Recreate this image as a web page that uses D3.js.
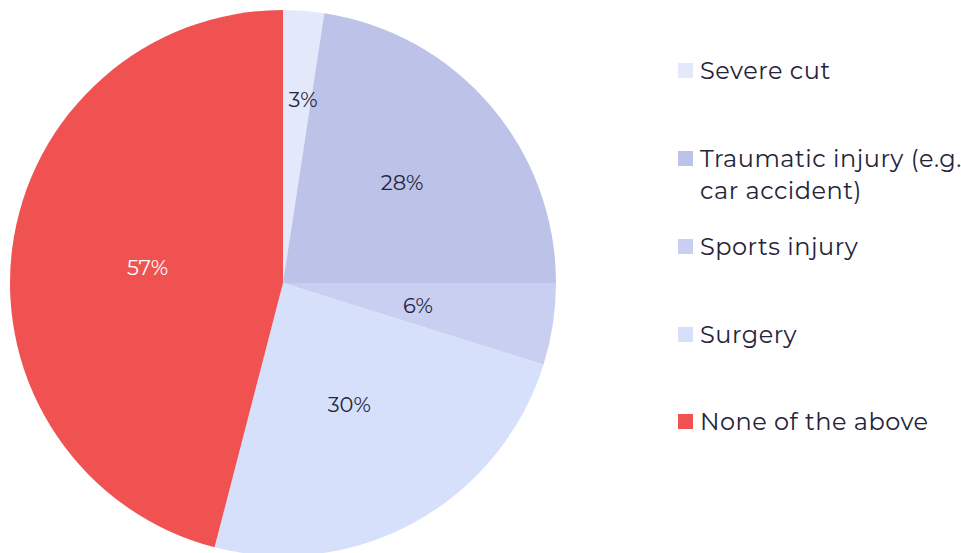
<!DOCTYPE html>
<html lang="en">
<head>
  <meta charset="UTF-8">
  <title>Injury pie</title>
  <script src="https://d3js.org/d3.v7.min.js"></script>
  <style>
    body { margin: 0; background: #fff; }
    svg text { font-family: Montserrat, "Noto Sans", sans-serif; }
  </style>
</head>
<body>
  <svg id="chart" width="961" height="553"></svg>
  <script>
    const categories = ["Severe cut", "Traumatic injury (e.g. car accident)", "Sports injury", "Surgery", "None of the above"];
    const legendLines = [["Severe cut"], ["Traumatic injury (e.g.", "car accident)"], ["Sports injury"], ["Surgery"], ["None of the above"]];
    const values = [3, 28, 6, 30, 57];
    const colors = ["#e3e8fa", "#bcc2e8", "#c9cff1", "#d6e0fa", "#f05252"];

    const width = 961, height = 553;
    const cx = 283, cy = 283, radius = 273;
    // label distance from centre, as a share of the radius
    const labelR = [0.68, 0.575, 0.5, 0.5, 0.5];

    const svg = d3.select("#chart");
    const g = svg.append("g").attr("transform", `translate(${cx},${cy})`);

    const pie = d3.pie().sort(null).value(d => d);
    const arcs = pie(values);
    const arc = d3.arc().innerRadius(0).outerRadius(radius);

    g.selectAll("path")
      .data(arcs)
      .enter()
      .append("path")
      .attr("d", arc)
      .attr("fill", (d, i) => colors[i]);

    g.selectAll("text.lbl")
      .data(arcs)
      .enter()
      .append("text")
      .attr("class", "lbl")
      .attr("transform", (d, i) => {
        const a = d3.arc().innerRadius(radius * labelR[i]).outerRadius(radius * labelR[i]);
        const [x, y] = a.centroid(d);
        return `translate(${x + (i === 0 ? 6 : 0)},${y + 2})`;
      })
      .attr("text-anchor", "middle")
      .attr("dy", "0.35em")
      .attr("font-size", 21)
      .attr("fill", (d, i) => i === 4 ? "#ffffff" : "#25243a")
      .text(d => d.value + "%");

    // legend
    const legend = svg.append("g").attr("transform", "translate(678,0)");
    const rowY = [71, 159, 247, 335, 422];
    const item = legend.selectAll("g")
      .data(categories)
      .enter()
      .append("g")
      .attr("transform", (d, i) => `translate(0,${rowY[i]})`);

    item.append("rect")
      .attr("x", 0)
      .attr("y", -8)
      .attr("width", 15)
      .attr("height", 15)
      .attr("fill", (d, i) => colors[i]);

    item.append("text")
      .attr("x", 22)
      .attr("font-size", 24)
      .attr("letter-spacing", 0.5)
      .attr("fill", "#25243a")
      .each(function(d, i) {
        const t = d3.select(this);
        legendLines[i].forEach((line, j) => {
          t.append("tspan").attr("x", 22).attr("dy", j === 0 ? "0.35em" : 32).text(line);
        });
      });
  </script>
</body>
</html>
